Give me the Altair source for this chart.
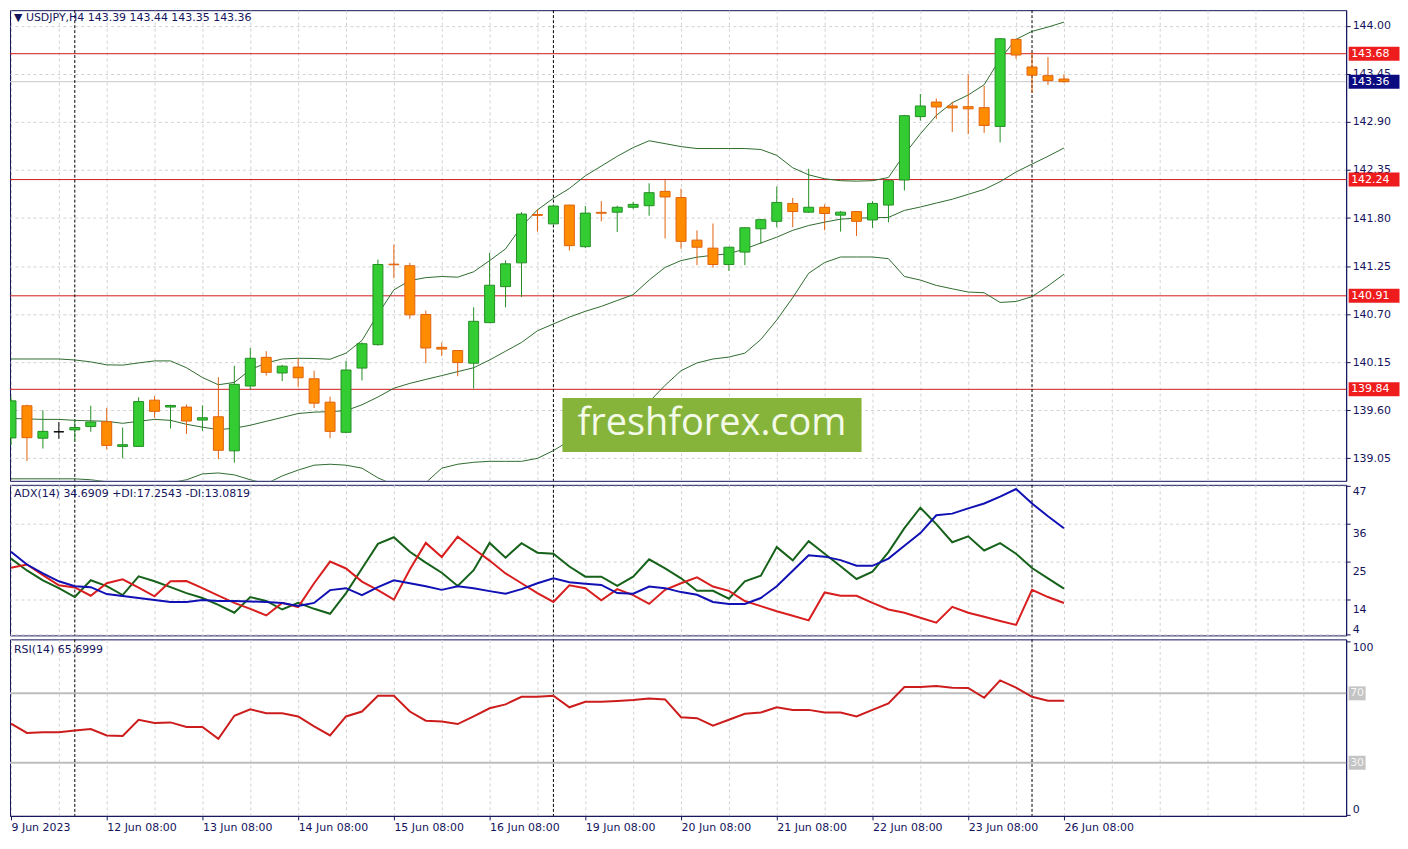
import altair as alt
import pandas as pd

# ---------------- data ----------------
bars = list(range(67))

opens = [139.284, 139.652, 139.281, 139.354, 139.376, 139.414, 139.470, 139.187, 139.187, 139.716,
         139.637, 139.637, 139.488, 139.526, 139.136, 139.878, 140.206, 140.027, 140.094, 139.961,
         139.693, 139.348, 140.083, 140.351, 141.272, 141.254, 140.696, 140.320, 140.284, 140.139,
         140.603, 141.015, 141.287, 141.840, 141.733, 141.948, 141.472, 141.865, 141.867, 141.923,
         141.941, 142.105, 142.034, 141.547, 141.455, 141.268, 141.410, 141.677, 141.762, 141.967,
         141.867, 141.923, 141.833, 141.874, 141.778, 141.948, 142.235, 142.960, 143.127, 143.082,
         143.074, 143.063, 142.848, 143.844, 143.528, 143.428, 143.390]
highs = [139.750, 139.666, 139.600, 139.466, 139.496, 139.652, 139.626, 139.403, 139.749, 139.763,
         139.663, 139.666, 139.655, 139.978, 140.109, 140.313, 140.276, 140.120, 140.195, 140.053,
         139.756, 140.165, 140.376, 141.324, 141.495, 141.287, 140.741, 140.376, 140.290, 140.778,
         141.402, 141.316, 141.867, 141.900, 141.950, 141.950, 141.937, 141.993, 141.941, 141.985,
         142.197, 142.238, 142.135, 141.659, 141.737, 141.470, 141.690, 141.790, 142.160, 142.030,
         142.364, 141.956, 141.881, 141.880, 141.993, 142.230, 142.980, 143.219, 143.167, 143.130,
         143.442, 143.312, 143.860, 143.850, 143.695, 143.640, 143.440]
lows = [139.200, 139.020, 139.162, 139.273, 139.247, 139.354, 139.154, 139.050, 139.180, 139.515,
        139.392, 139.329, 139.365, 139.042, 139.002, 139.838, 139.997, 139.934, 139.867, 139.626,
        139.281, 139.336, 139.942, 140.340, 141.112, 140.647, 140.139, 140.220, 139.990, 139.849,
        140.600, 140.778, 140.897, 141.644, 141.730, 141.428, 141.455, 141.762, 141.640, 141.904,
        141.826, 141.566, 141.447, 141.261, 141.231, 141.194, 141.261, 141.503, 141.695, 141.695,
        141.860, 141.659, 141.644, 141.595, 141.688, 141.751, 142.116, 142.915, 142.933, 142.785,
        142.759, 142.774, 142.665, 143.621, 143.231, 143.323, 143.350]
closes = [139.708, 139.287, 139.359, 139.354, 139.403, 139.466, 139.198, 139.206, 139.700, 139.588,
          139.655, 139.477, 139.515, 139.142, 139.897, 140.195, 140.034, 140.105, 139.972, 139.682,
          139.359, 140.061, 140.362, 141.268, 141.265, 140.692, 140.313, 140.300, 140.146, 140.618,
          141.031, 141.276, 141.845, 141.830, 141.937, 141.484, 141.856, 141.855, 141.923, 141.956,
          142.090, 142.041, 141.533, 141.466, 141.268, 141.466, 141.689, 141.781, 141.978, 141.874,
          141.923, 141.852, 141.867, 141.762, 141.967, 142.227, 142.971, 143.082, 143.071, 143.060,
          143.049, 142.859, 143.851, 143.665, 143.434, 143.372, 143.360]

bb_upper = [140.187, 140.187, 140.187, 140.187, 140.176, 140.154, 140.120, 140.117, 140.142, 140.165,
            140.165, 140.087, 139.975, 139.892, 139.919, 140.064, 140.142, 140.187, 140.195, 140.193,
            140.184, 140.254, 140.399, 140.700, 140.978, 141.084, 141.118, 141.131, 141.123, 141.185,
            141.313, 141.447, 141.703, 141.893, 142.026, 142.138, 142.283, 142.394, 142.506, 142.606,
            142.684, 142.651, 142.617, 142.595, 142.595, 142.595, 142.595, 142.584, 142.517, 142.375,
            142.294, 142.249, 142.227, 142.222, 142.227, 142.264, 142.528, 142.762, 142.974, 143.119,
            143.208, 143.325, 143.621, 143.844, 143.936, 143.985, 144.041]
bb_mid = [139.507, 139.501, 139.496, 139.496, 139.485, 139.479, 139.474, 139.451, 139.474, 139.496,
          139.485, 139.440, 139.407, 139.379, 139.395, 139.429, 139.474, 139.518, 139.563, 139.579,
          139.585, 139.596, 139.663, 139.752, 139.853, 139.908, 139.953, 139.997, 140.042, 140.087,
          140.176, 140.276, 140.376, 140.510, 140.588, 140.666, 140.733, 140.789, 140.856, 140.923,
          141.090, 141.235, 141.313, 141.352, 141.374, 141.391, 141.447, 141.514, 141.581, 141.659,
          141.714, 141.753, 141.787, 141.798, 141.803, 141.807, 141.887, 141.926, 141.971, 142.015,
          142.071, 142.127, 142.216, 142.327, 142.417, 142.506, 142.601]
bb_lower = [138.816, 138.816, 138.816, 138.816, 138.816, 138.805, 138.783, 138.750, 138.716, 138.738,
            138.772, 138.805, 138.872, 138.883, 138.861, 138.805, 138.760, 138.849, 138.916, 138.972,
            138.983, 138.972, 138.938, 138.827, 138.749, 138.738, 138.771, 138.938, 138.983, 139.005,
            139.016, 139.016, 139.016, 139.050, 139.139, 139.251, 139.329, 139.407, 139.496, 139.585,
            139.696, 139.886, 140.053, 140.142, 140.187, 140.209, 140.254, 140.410, 140.633, 140.889,
            141.168, 141.291, 141.354, 141.354, 141.354, 141.335, 141.131, 141.090, 141.029, 140.990,
            140.953, 140.945, 140.834, 140.845, 140.900, 141.023, 141.157]

adx = [27.91, 24.21, 21.64, 19.36, 17.94, 17.65, 15.66, 15.09, 14.52, 13.95,
       13.38, 13.38, 13.95, 13.66, 13.66, 13.52, 13.38, 13.10, 12.24, 13.10,
       16.80, 17.37, 15.37, 17.65, 19.65, 18.79, 17.94, 16.88, 17.94, 17.37,
       16.51, 15.75, 17.08, 18.79, 20.22, 19.08, 18.65, 18.31, 15.94, 15.75,
       17.85, 17.37, 16.23, 15.46, 13.38, 12.81, 12.81, 14.52, 17.94, 22.41,
       26.86, 26.49, 25.49, 23.84, 23.84, 25.92, 29.62, 33.32, 38.45, 38.94,
       40.45, 41.87, 43.86, 46.06, 41.87, 38.17, 34.69]
plus_di = [25.92, 22.50, 19.65, 17.37, 14.80, 19.65, 17.94, 15.37, 20.79, 19.36,
           17.65, 15.94, 14.52, 12.53, 10.25, 14.80, 13.66, 11.19, 13.10, 11.39,
           9.96, 15.94, 23.07, 30.19, 32.10, 27.91, 24.78, 21.84, 18.02, 22.58,
           30.47, 26.20, 30.39, 27.63, 27.34, 23.64, 20.70, 20.70, 18.02, 20.70,
           25.72, 23.07, 20.22, 16.60, 16.60, 14.32, 19.36, 20.99, 29.25, 25.43,
           30.96, 27.34, 23.72, 20.02, 22.13, 27.82, 34.75, 40.65, 35.89, 30.67,
           32.38, 28.28, 30.39, 27.34, 23.21, 20.22, 17.25]
minus_di = [23.27, 24.21, 21.16, 18.22, 17.57, 15.18, 18.79, 19.93, 17.51, 15.00,
            19.36, 19.45, 17.37, 15.23, 13.10, 11.39, 9.48, 13.10, 11.87, 18.79,
            25.06, 23.07, 19.28, 16.80, 14.04, 22.78, 30.47, 26.40, 32.27, 28.76,
            25.35, 21.64, 18.79, 15.94, 13.38, 18.22, 17.37, 13.86, 17.08, 15.37,
            12.81, 16.88, 18.79, 20.50, 17.85, 16.60, 13.66, 12.16, 10.67, 9.39,
            8.05, 16.14, 15.18, 15.18, 13.10, 11.19, 10.25, 8.82, 7.40, 11.96,
            10.25, 9.11, 7.88, 6.74, 16.88, 14.80, 13.08]
rsi = [52.52, 47.19, 47.59, 47.59, 48.55, 49.46, 45.72, 45.49, 54.79, 52.87,
       53.26, 50.60, 50.60, 43.79, 57.07, 60.81, 58.54, 58.54, 56.67, 50.99,
       45.72, 56.67, 59.50, 68.58, 68.58, 59.50, 54.23, 53.83, 52.30, 56.67,
       61.38, 63.65, 68.01, 68.01, 68.58, 61.95, 65.18, 65.18, 65.57, 66.14,
       67.05, 66.48, 56.27, 55.70, 51.39, 54.79, 58.20, 58.94, 61.95, 60.47,
       60.47, 58.94, 58.94, 56.67, 60.47, 64.21, 73.69, 73.69, 74.25, 73.29,
       73.12, 67.45, 77.49, 73.29, 68.01, 65.70, 65.70]

x_label_bars = [0, 6, 12, 18, 24, 30, 36, 42, 48, 54, 60, 66]
x_labels = ["9 Jun 2023", "12 Jun 08:00", "13 Jun 08:00", "14 Jun 08:00", "15 Jun 08:00",
            "16 Jun 08:00", "19 Jun 08:00", "20 Jun 08:00", "21 Jun 08:00", "22 Jun 08:00",
            "23 Jun 08:00", "26 Jun 08:00"]
week_separator_bars = [4, 34, 64]
level_prices = [143.68, 142.24, 140.91, 139.84]
bid_price = [143.36]
price_ticks = [139.05, 139.60, 140.15, 140.70, 141.25, 141.80, 142.35, 142.90, 143.45, 144.00]
adx_ticks = [4, 14, 25, 36, 47]
rsi_ticks = [0, 100]
rsi_levels = [70, 30]

price_header = "\u25bc USDJPY,H4  143.39 143.44 143.35 143.36"
adx_header = "ADX(14) 34.6909 +DI:17.2543 -DI:13.0819"
rsi_header = "RSI(14) 65.6999"
watermark = "freshforex.com"

# ---------------- styling ----------------
W = 1340
H_PRICE, H_ADX, H_RSI = 472, 151, 177
NAVY = "#14145c"
FONT = "DejaVu Sans"
GRID = "#d2d2d2"
BULL_FILL, BULL_LINE = "#33cc33", "#248f24"
BEAR_FILL, BEAR_LINE = "#ff8c00", "#e0620c"
BB_COLOR = "#2f6b2f"
HALF_BODY = 0.3125  # half of a candle body, in bars (10 px at 16 px per bar)

df = pd.DataFrame({"bar": bars, "open": opens, "high": highs, "low": lows, "close": closes,
                   "upper": bb_upper, "mid": bb_mid, "lower": bb_lower,
                   "adx": adx, "pdi": plus_di, "mdi": minus_di, "rsi": rsi})
df["dir"] = ["up" if c > o else ("down" if c < o else "flat") for o, c in zip(opens, closes)]

x_scale = alt.Scale(domain=[-0.0625, 83.69], nice=False, zero=False)
grid_bars = list(range(0, 84, 3))
x_axis_top = alt.Axis(values=grid_bars, labels=False, ticks=False, domain=False, grid=True,
                      gridDash=[3, 3], gridColor=GRID, title=None)
labels_js = "[" + ",".join("'" + s + "'" for s in x_labels) + "]"
last_label = x_label_bars[-1]
x_axis_bottom = alt.Axis(values=grid_bars, grid=True, gridDash=[3, 3], gridColor=GRID, title=None,
                         labelExpr=f"(datum.value % 6 == 0 && datum.value <= {last_label}) ? {labels_js}[datum.value / 6] : ''",
                         labelAlign="left", labelPadding=2, labelOverlap=False, tickSize=4,
                         tickColor=NAVY,
                         tickOpacity={"condition": {"test": f"datum.value % 6 == 0 && datum.value <= {last_label}", "value": 1}, "value": 0},
                         domainColor=NAVY, labelColor=NAVY, labelFont=FONT, labelFontSize=11)

def xq(axis, field="bar"):
    return alt.X(f"{field}:Q", scale=x_scale, axis=axis)

# ---------------- price panel ----------------
price_scale = alt.Scale(domain=[138.793, 144.178], nice=False, zero=False)
price_axis = alt.Axis(orient="right", values=price_ticks, format=".2f", grid=True, gridDash=[3, 3],
                      gridColor=GRID, tickSize=4, tickColor=NAVY, domainColor=NAVY, labelColor=NAVY,
                      labelFont=FONT, labelFontSize=11, labelPadding=2, title=None)

def py(field):
    return alt.Y(f"{field}:Q", scale=price_scale, axis=price_axis)

fill_scale = alt.Scale(domain=["up", "down", "flat"], range=[BULL_FILL, BEAR_FILL, "#000000"])
stroke_scale = alt.Scale(domain=["up", "down", "flat"], range=[BULL_LINE, BEAR_LINE, "#000000"])

base = alt.Chart(df)
levels_df = pd.DataFrame({"price": level_prices})
bid_df = pd.DataFrame({"price": bid_price})
week_df = pd.DataFrame({"bar": week_separator_bars})
tags_df = pd.DataFrame({"price": level_prices + bid_price,
                        "label": [f"{p:.2f}" for p in level_prices + bid_price],
                        "bg": ["#ee1c1c"] * len(level_prices) + ["#0a0a80"]})

lvl = alt.Chart(levels_df).mark_rule(color="#d21a1a", strokeWidth=1).encode(y=py("price"))
bid = alt.Chart(bid_df).mark_rule(color="#c8c8c8", strokeWidth=1).encode(y=py("price"))

def seps(axis):
    return alt.Chart(week_df).mark_rule(color="#000000", strokeDash=[3, 2], strokeWidth=1).encode(x=xq(axis))

bands = base.transform_fold(["upper", "mid", "lower"], as_=["band", "val"]).mark_line(
    color=BB_COLOR, strokeWidth=1, clip=True).encode(x=xq(x_axis_top), y=py("val"), detail="band:N")
wicks = base.mark_rule(clip=True, strokeWidth=1).encode(
    x=xq(x_axis_top), y=py("low"), y2="high:Q",
    stroke=alt.Stroke("dir:N", scale=stroke_scale, legend=None))
bodies = base.transform_calculate(
    b0=f"datum.bar - {HALF_BODY}", b1=f"datum.bar + {HALF_BODY}"
).mark_rect(clip=True, strokeWidth=1).encode(
    x=xq(x_axis_top, "b0"), x2="b1:Q", y=py("open"), y2="close:Q",
    fill=alt.Fill("dir:N", scale=fill_scale, legend=None),
    stroke=alt.Stroke("dir:N", scale=stroke_scale, legend=None))
tag_box = alt.Chart(tags_df).mark_tick(orient="horizontal", size=51, thickness=14, opacity=1).encode(
    x=alt.value(W + 28), y=py("price"), color=alt.Color("bg:N", scale=None))
tag_txt = alt.Chart(tags_df).mark_text(align="left", baseline="middle", font=FONT, fontSize=11,
                                       color="white").encode(
    x=alt.value(W + 5), y=py("price"), text="label:N")
p_head = alt.Chart(pd.DataFrame({"t": [price_header]})).mark_text(
    align="left", baseline="middle", font=FONT, fontSize=11, color=NAVY).encode(
    x=alt.value(4), y=alt.value(8), text="t:N")
wm_df = pd.DataFrame({"t": [watermark]})
wm_box = alt.Chart(wm_df).mark_rect(color="#86b43a").encode(
    x=alt.value(554), x2=alt.value(854), y=alt.value(389), y2=alt.value(443))
wm_txt = alt.Chart(wm_df).mark_text(align="center", baseline="middle", font="Open Sans", fontSize=38,
                                    color="#f4fae8").encode(
    x=alt.value(704), y=alt.value(415), text="t:N")

price_panel = alt.layer(lvl, bid, seps(x_axis_top), bands, wicks, bodies, tag_box, tag_txt, p_head,
                        wm_box, wm_txt).properties(width=W, height=H_PRICE)

# ---------------- ADX panel ----------------
adx_scale = alt.Scale(domain=[3.7, 47.28], nice=False, zero=False)
adx_axis = alt.Axis(orient="right", values=adx_ticks, grid=True, gridDash=[3, 3], gridColor=GRID,
                    tickSize=4, tickColor=NAVY, domainColor=NAVY, labelColor=NAVY, labelFont=FONT,
                    labelFontSize=11, labelPadding=2, title=None,
                    labelBaseline={"condition": {"test": "datum.value <= 4", "value": "bottom"}, "value": "top"},
                    labelOffset={"condition": {"test": "datum.value > 4 && datum.value < 47", "value": 4}, "value": 0})
adx_lines = base.transform_fold(["pdi", "mdi", "adx"], as_=["series", "val"]).mark_line(
    strokeWidth=2, clip=True).encode(
    x=xq(x_axis_top), y=alt.Y("val:Q", scale=adx_scale, axis=adx_axis),
    color=alt.Color("series:N", scale=alt.Scale(domain=["pdi", "mdi", "adx"],
                                                range=["#16621a", "#d81e1e", "#1010b4"]), legend=None))
a_head = alt.Chart(pd.DataFrame({"t": [adx_header]})).mark_text(
    align="left", baseline="middle", font=FONT, fontSize=11, color=NAVY).encode(
    x=alt.value(4), y=alt.value(9), text="t:N")
adx_panel = alt.layer(seps(x_axis_top), adx_lines, a_head).properties(width=W, height=H_ADX)

# ---------------- RSI panel ----------------
rsi_scale = alt.Scale(domain=[-0.6, 101.1], nice=False, zero=False)
rsi_axis = alt.Axis(orient="right", values=rsi_ticks, grid=False, tickSize=4, tickColor=NAVY,
                    domainColor=NAVY, labelColor=NAVY, labelFont=FONT, labelFontSize=11,
                    labelPadding=2, labelFlush=6, title=None)
rsi_lv_df = pd.DataFrame({"lvl": rsi_levels, "label": [str(v) for v in rsi_levels]})
r_levels = alt.Chart(rsi_lv_df).mark_rule(color="#bdbdbd", strokeWidth=2).encode(
    y=alt.Y("lvl:Q", scale=rsi_scale, axis=rsi_axis))
r_box = alt.Chart(rsi_lv_df).mark_tick(orient="horizontal", size=17, thickness=14, opacity=1,
                                       color="#c4c4c4").encode(
    x=alt.value(W + 11), y=alt.Y("lvl:Q", scale=rsi_scale, axis=rsi_axis))
r_txt = alt.Chart(rsi_lv_df).mark_text(align="left", baseline="middle", font=FONT, fontSize=11,
                                       color="#f5f5f5").encode(
    x=alt.value(W + 4), y=alt.Y("lvl:Q", scale=rsi_scale, axis=rsi_axis), text="label:N")
r_line = base.mark_line(color="#cc1c1c", strokeWidth=2, clip=True).encode(
    x=xq(x_axis_bottom), y=alt.Y("rsi:Q", scale=rsi_scale, axis=rsi_axis))
r_head = alt.Chart(pd.DataFrame({"t": [rsi_header]})).mark_text(
    align="left", baseline="middle", font=FONT, fontSize=11, color=NAVY).encode(
    x=alt.value(4), y=alt.value(11), text="t:N")
rsi_panel = alt.layer(r_levels, seps(x_axis_bottom), r_line, r_box, r_txt, r_head).properties(
    width=W, height=H_RSI)

chart = alt.vconcat(price_panel, adx_panel, rsi_panel, spacing=2).properties(
    padding=0, background="white"
).configure_view(stroke=NAVY, strokeWidth=1).configure_axis(labelFont=FONT)

chart.save("out.html", embed_options={"renderer": "svg", "actions": False})
